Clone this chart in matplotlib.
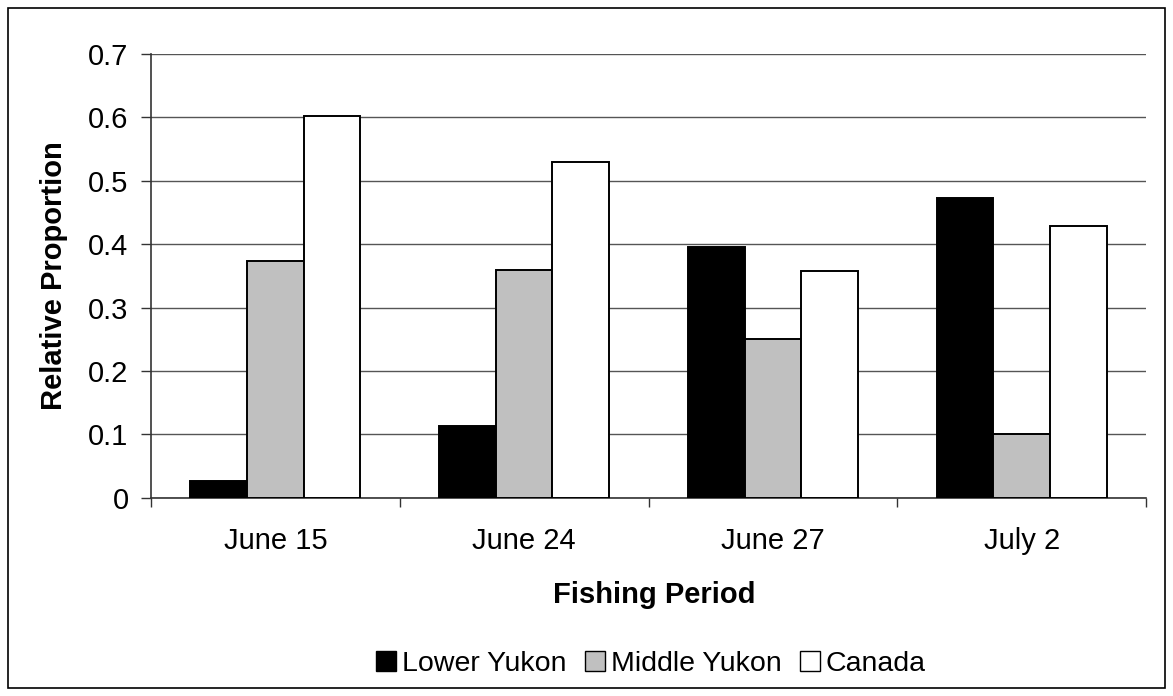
import matplotlib
matplotlib.use("Agg")
import matplotlib.pyplot as plt
import numpy as np
from matplotlib.patches import Rectangle, Patch

periods = ["June 15", "June 24", "June 27", "July 2"]
lower_yukon = [0.026, 0.113, 0.395, 0.473]
middle_yukon = [0.374, 0.360, 0.250, 0.101]
canada = [0.602, 0.529, 0.358, 0.428]
series_names = ["Lower Yukon", "Middle Yukon", "Canada"]
series_colors = ["#000000", "#c0c0c0", "#ffffff"]

plt.rcParams["font.family"] = ["Liberation Sans", "DejaVu Sans"]

W, H = 1173, 696
fig = plt.figure(figsize=(W / 100, H / 100), dpi=100)
ax = fig.add_axes([151 / W, 1 - 497.7 / H, (1146 - 151) / W, 443.7 / H])

x = np.arange(len(periods))
w = 0.228
for i, (vals, col) in enumerate(zip([lower_yukon, middle_yukon, canada], series_colors)):
    ax.bar(x + (i - 1) * w, vals, width=w, color=col, edgecolor="black",
           linewidth=1.4, zorder=3)

ax.set_xlim(-0.5, len(periods) - 0.5)
ax.set_ylim(0, 0.7)
ax.set_yticks(np.arange(0, 0.71, 0.1))
ax.set_yticklabels(["0", "0.1", "0.2", "0.3", "0.4", "0.5", "0.6", "0.7"])
ax.yaxis.grid(True, color="#555555", linewidth=1.0, zorder=0)
ax.set_axisbelow(True)

ax.set_xticks(x)
ax.set_xticklabels(periods)
ax.set_xticks(np.arange(-0.5, len(periods)), minor=True)
ax.tick_params(axis="x", which="major", length=0, pad=21, labelsize=21)
ax.tick_params(axis="x", which="minor", length=6.5, width=1.0, color="#333333")
ax.tick_params(axis="y", length=7.2, width=1.0, color="#333333", labelsize=21, pad=9)

for s in ["top", "right"]:
    ax.spines[s].set_visible(False)
for s in ["left", "bottom"]:
    ax.spines[s].set_color("#333333")
    ax.spines[s].set_linewidth(1.2)

ax.set_ylabel("Relative Proportion", fontsize=21, fontweight="bold")
ax.yaxis.set_label_coords(-0.083, 0.5)
ax.set_xlabel("Fishing Period", fontsize=21, fontweight="bold")
ax.xaxis.set_label_coords(0.506, -0.188)

handles = [Patch(facecolor=c, edgecolor="black", linewidth=1.0) for c in series_colors]
fig.legend(handles, series_names, loc="center", bbox_to_anchor=(651 / W, 1 - 664 / H),
           ncol=3, frameon=False, fontsize=20.5, handlelength=0.7, handleheight=0.7,
           handletextpad=0.2, columnspacing=0.65, borderpad=0.1)

fig.patches.append(Rectangle((8 / W, 8 / H), 1157 / W, 680 / H,
                             transform=fig.transFigure, fill=False,
                             edgecolor="black", linewidth=1.2))

fig.savefig("out.png", dpi=100, facecolor="white")
